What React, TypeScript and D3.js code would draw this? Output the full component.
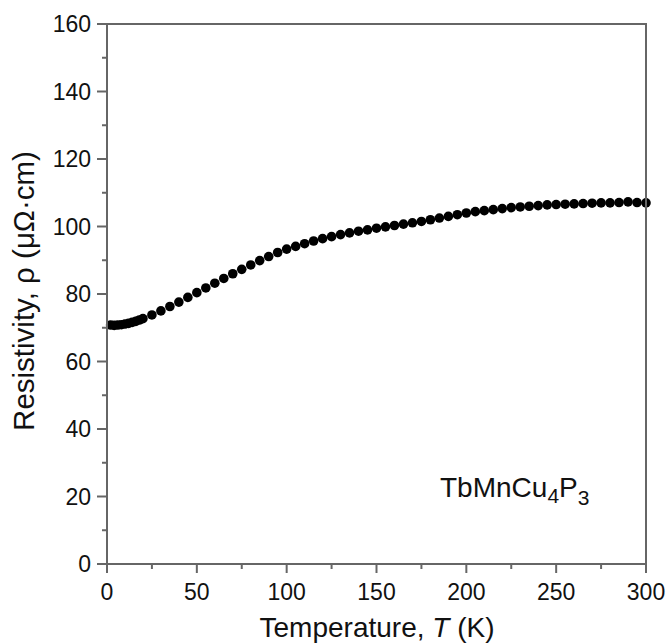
import React from "react";
import * as d3 from "d3";

const temps = [2, 4, 6, 8, 10, 12, 14, 16, 18, 20, 25, 30, 35, 40, 45, 50, 55, 60, 65, 70, 75, 80, 85, 90, 95, 100, 105, 110, 115, 120, 125, 130, 135, 140, 145, 150, 155, 160, 165, 170, 175, 180, 185, 190, 195, 200, 205, 210, 215, 220, 225, 230, 235, 240, 245, 250, 255, 260, 265, 270, 275, 280, 285, 290, 295, 300];
const rho = [70.8, 70.7, 70.8, 70.9, 71.1, 71.3, 71.6, 71.9, 72.3, 72.7, 73.8, 75.0, 76.3, 77.6, 79.0, 80.4, 81.8, 83.2, 84.6, 86.0, 87.3, 88.6, 89.9, 91.1, 92.3, 93.3, 94.1, 94.9, 95.7, 96.4, 97.0, 97.6, 98.1, 98.6, 99.0, 99.5, 99.9, 100.3, 100.7, 101.1, 101.5, 102.0, 102.5, 103.0, 103.5, 104.0, 104.4, 104.7, 105.0, 105.3, 105.6, 105.8, 106.0, 106.2, 106.4, 106.5, 106.6, 106.7, 106.8, 106.9, 107.0, 107.0, 107.1, 107.3, 107.1, 107.0];
const xTicks = [0, 50, 100, 150, 200, 250, 300];
const xMinor = [25, 75, 125, 175, 225, 275];
const yTicks = [0, 20, 40, 60, 80, 100, 120, 140, 160];
const yMinor = [10, 30, 50, 70, 90, 110, 130, 150];

export default function App() {
  const W = 669, H = 643;
  const L = 107, R = 646, T = 24, B = 564;
  const x = d3.scaleLinear().domain([0, 300]).range([L, R]);
  const y = d3.scaleLinear().domain([0, 160]).range([B, T]);
  const axisColor = "#666";
  const font = "'Liberation Sans', Arial, sans-serif";
  return (
    <svg width={W} height={H} style={{ position: "absolute", left: 0, top: 0 }}>
      <rect width={W} height={H} fill="#fff" />
      {temps.map((t, i) => (
        <circle key={i} cx={x(t)} cy={y(rho[i])} r={4.8} fill="#000" />
      ))}
      <rect x={L} y={T} width={R - L} height={B - T} fill="none" stroke={axisColor} strokeWidth={2} />
      {xTicks.map((v) => (
        <g key={"x" + v}>
          <line x1={x(v)} x2={x(v)} y1={B} y2={B + 9} stroke={axisColor} strokeWidth={2} />
          <text x={x(v)} y={600} textAnchor="middle" fontSize={23} fontFamily={font} fill="#111">{v}</text>
        </g>
      ))}
      {xMinor.map((v) => (
        <line key={"xm" + v} x1={x(v)} x2={x(v)} y1={B} y2={B + 5} stroke={axisColor} strokeWidth={2} />
      ))}
      {yTicks.map((v) => (
        <g key={"y" + v}>
          <line x1={L - 10} x2={L} y1={y(v)} y2={y(v)} stroke={axisColor} strokeWidth={2} />
          <text x={91} y={y(v) + 8} textAnchor="end" fontSize={23} fontFamily={font} fill="#111">{v}</text>
        </g>
      ))}
      {yMinor.map((v) => (
        <line key={"ym" + v} x1={L - 5} x2={L} y1={y(v)} y2={y(v)} stroke={axisColor} strokeWidth={2} />
      ))}
      <text x={377} y={637} textAnchor="middle" fontSize={28} fontFamily={font} fill="#111">
        Temperature, <tspan fontStyle="italic">T</tspan> (K)
      </text>
      <text transform={`translate(34, 291) rotate(-90)`} textAnchor="middle" fontSize={29.5} fontFamily={font} fill="#111">
        Resistivity, ρ (μΩ·cm)
      </text>
      <text x={440} y={497} fontSize={28} fontFamily={font} fill="#111">
        TbMnCu<tspan fontSize={21} dy={6}>4</tspan><tspan dy={-6}>P</tspan><tspan fontSize={21} dy={8}>3</tspan>
      </text>
    </svg>
  );
}
